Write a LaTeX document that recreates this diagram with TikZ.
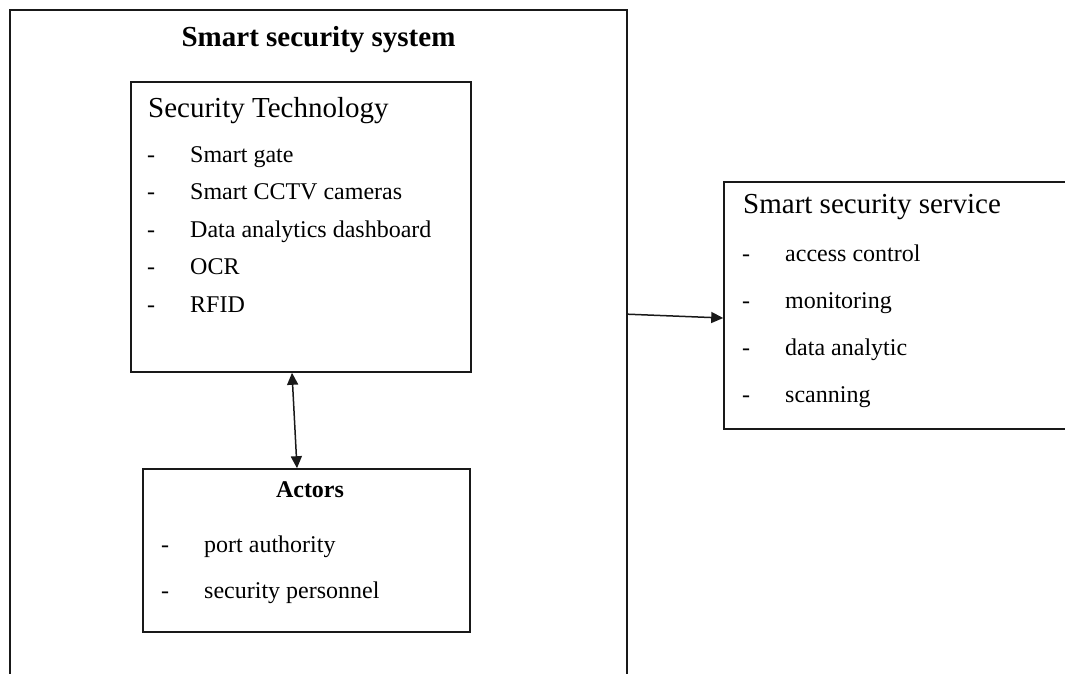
\documentclass[tikz,border=0pt]{standalone}
\usepackage{fontspec}
\setmainfont{Liberation Serif}
\usetikzlibrary{arrows.meta,calc}

\tikzset{
  frame/.style={draw=black!90, line width=1.6pt, inner sep=0pt, fill=none},
  headtext/.style={inner sep=0pt, anchor=base west, font=\fontsize{29}{34}\selectfont},
  titletext/.style={inner sep=0pt, anchor=base, font=\fontsize{29}{34}\selectfont\bfseries},
  itemtext/.style={inner sep=0pt, anchor=base west, font=\fontsize{24}{29}\selectfont},
  subhead/.style={inner sep=0pt, anchor=base, font=\fontsize{24}{29}\selectfont\bfseries},
  link/.style={draw=black!90, line width=1.5pt},
  tip/.tip={Triangle[length=12pt,width=11pt]}
}

\begin{document}
\begin{tikzpicture}[x=1pt,y=-1pt]
  \clip (0,0) rectangle (1065,673);
  \fill[white] (0,0) rectangle (1065,673);

  % outer system frame (open below the page edge)
  \node[frame, minimum width=617pt, minimum height=700pt] (outer) at (318.5,360) {};
  \node[titletext] (systitle) at (318.5,46) {Smart security system};

  % security technology block
  \node[frame, minimum width=340pt, minimum height=290pt] (tech) at (301,227) {};
  \node[headtext] (techhead) at (148,117) {Security Technology};
  \foreach \t [count=\i] in {Smart gate, Smart CCTV cameras, Data analytics dashboard, OCR, RFID}{
    \node[itemtext] (techdash\i) at (147,{162+37.5*(\i-1)}) {-};
    \node[itemtext] (techitem\i) at (190,{162+37.5*(\i-1)}) {\t};
  }

  % actors block
  \node[frame, minimum width=327pt, minimum height=163pt] (actors) at (306.5,550.5) {};
  \node[subhead] (actorshead) at (310,497) {Actors};
  \foreach \t [count=\i] in {port authority, security personnel}{
    \node[itemtext] (actdash\i) at (161,{552+46*(\i-1)}) {-};
    \node[itemtext] (actitem\i) at (204,{552+46*(\i-1)}) {\t};
  }

  % service block (runs past the right page edge)
  \node[frame, minimum width=361pt, minimum height=247pt] (svc) at (904.5,305.5) {};
  \node[headtext] (svchead) at (743,213) {Smart security service};
  \foreach \t [count=\i] in {access control, monitoring, data analytic, scanning}{
    \node[itemtext] (svcdash\i) at (742,{261+47*(\i-1)}) {-};
    \node[itemtext] (svcitem\i) at (785,{261+47*(\i-1)}) {\t};
  }

  % connectors
  \draw[link, tip-tip] ($(tech.south)+(-9,0)$) -- ($(actors.north)+(-9.5,0)$);
  \draw[link, -tip] ($(outer.north east)+(0,305)$) -- ($(svc.west)+(0,12.5)$);
\end{tikzpicture}
\end{document}
